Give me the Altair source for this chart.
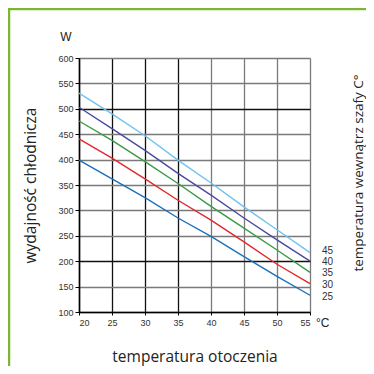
import altair as alt
import pandas as pd

temps = [20, 25, 30, 35, 40, 45, 50, 55]
s25 = [399, 362, 325, 285, 249, 209, 170, 133]
s30 = [441, 403, 362, 320, 281, 238, 194, 156]
s35 = [476, 438, 396, 353, 308, 265, 222, 178]
s40 = [503, 461, 418, 373, 330, 285, 242, 200]
s45 = [531, 490, 447, 399, 354, 307, 262, 217]
series_names = ["25", "30", "35", "40", "45"]
series_values = [s25, s30, s35, s40, s45]
label_w = [130, 153, 176, 198, 220]
colors = ["#1c6fbc", "#e5262b", "#3a9a44", "#4a4a9e", "#6ec3ee"]
x_ticks = [20, 25, 30, 35, 40, 45, 50, 55]
y_ticks = [100, 150, 200, 250, 300, 350, 400, 450, 500, 550, 600]

rows = []
for name, vals in zip(series_names, series_values):
    for t, v in zip(temps, vals):
        rows.append({"t": t, "w": v, "s": name})
df = pd.DataFrame(rows)
ends = pd.DataFrame({"t": [temps[-1]] * len(series_names), "w": label_w, "s": series_names})

FONT_T = "Open Sans"
FONT_L = "Liberation Sans"

xs = alt.Scale(domain=[20, 55], nice=False, zero=False)
ys = alt.Scale(domain=[100, 600], nice=False, zero=False)

x_axis = alt.Axis(
    values=x_ticks, labelOverlap=False, title="temperatura otoczenia", titleFont=FONT_T, titleFontSize=15.5,
    titleFontWeight="normal", titleColor="#222", titleY=44, titleBaseline="middle",
    labelFont=FONT_L, labelFontSize=9, labelColor="#333", labelPadding=3,
    tickSize=3, tickColor="#000", domainColor="#000", domainWidth=1.5,
    gridColor={"condition": {"test": "datum.value <= 35", "value": "#111"}, "value": "#7a7a7a"},
    gridWidth=1.3, gridOpacity=1,
)
y_axis = alt.Axis(
    values=y_ticks, labelOverlap=False, title="wydajność chłodnicza", titleFont=FONT_T, titleFontSize=15.5,
    titleFontWeight="normal", titleColor="#222", titleX=-49, titleY=127, titleAngle=270,
    titleBaseline="middle", titleAlign="center",
    labelFont=FONT_L, labelFontSize=9, labelColor="#333", labelPadding=2,
    tickSize=4, tickColor="#000", domainColor="#000", domainWidth=1.5,
    gridColor={"condition": {"test": "datum.value == 200 || datum.value == 500", "value": "#111"}, "value": "#7a7a7a"},
    gridWidth=1.3, gridOpacity=1,
)

lines = alt.Chart(df).mark_line(strokeWidth=1.4).encode(
    x=alt.X("t:Q", scale=xs, axis=x_axis),
    y=alt.Y("w:Q", scale=ys, axis=y_axis),
    color=alt.Color("s:N", scale=alt.Scale(domain=series_names, range=colors), legend=None),
)

labels = alt.Chart(ends).mark_text(align="left", baseline="middle", dx=12, font=FONT_L, fontSize=10, color="#333").encode(
    x=alt.X("t:Q", scale=xs, axis=x_axis), y=alt.Y("w:Q", scale=ys, axis=y_axis), text="s:N"
)

w_label = alt.Chart(pd.DataFrame({"txt": ["W"]})).mark_text(font=FONT_L, fontSize=12, color="#222", align="center", baseline="middle").encode(
    x=alt.value(-13), y=alt.value(-21), text="txt:N")
c_label = alt.Chart(pd.DataFrame({"txt": ["°C"]})).mark_text(font=FONT_L, fontSize=12, color="#222", align="left", baseline="middle").encode(
    x=alt.value(237), y=alt.value(265), text="txt:N")
r_title = alt.Chart(pd.DataFrame({"txt": ["temperatura wewnątrz szafy C°"]})).mark_text(
    font=FONT_T, fontSize=13.5, color="#222", align="center", baseline="middle", angle=270).encode(
    x=alt.value(280), y=alt.value(115), text="txt:N")

frame_v = alt.Chart(pd.DataFrame({"a": [0]})).mark_rule(color="#7bb733", strokeWidth=2.5).encode(
    x=alt.value(-70), y=alt.value(-49), y2=alt.value(330))
frame_h = alt.Chart(pd.DataFrame({"a": [0]})).mark_rule(color="#7bb733", strokeWidth=2.5).encode(
    x=alt.value(-71.25), x2=alt.value(300), y=alt.value(-49))

chart = alt.layer(lines, labels, w_label, c_label, r_title, frame_v, frame_h).properties(
    width=231, height=254,
    autosize=alt.AutoSizeParams(type="none"),
    padding={"left": 71, "top": 50, "right": 56, "bottom": 54},
    background="white",
).configure_view(stroke=None)

chart.save("out.html", embed_options={"renderer": "svg", "actions": False})
